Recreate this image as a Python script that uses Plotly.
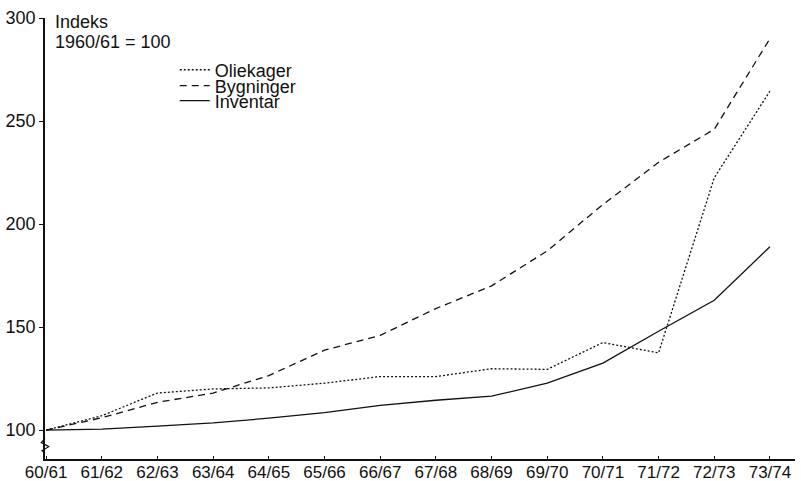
import plotly.graph_objects as go

years = ["60/61", "61/62", "62/63", "63/64", "64/65", "65/66", "66/67",
         "67/68", "68/69", "69/70", "70/71", "71/72", "72/73", "73/74"]

oliekager = [100, 107, 118, 120, 120.5, 122.8, 126, 126, 129.8, 129.5,
             142.5, 137.5, 222.5, 264.5]
bygninger = [100, 106, 113.5, 118, 126.5, 138.8, 146, 159, 170, 187,
             209.5, 230, 246, 290]
inventar = [100, 100.5, 102, 103.5, 105.8, 108.5, 112, 114.5, 116.5, 122.8,
            132.5, 148, 163, 189]

_FONT = "Liberation Sans, Arial, sans-serif"
_INK = "#111111"

fig = go.Figure()
fig.add_trace(go.Scatter(
    x=years, y=oliekager, mode="lines", name="Oliekager", legend="legend",
    line={"color": _INK, "width": 1.3, "dash": "2px,2px"},
))
fig.add_trace(go.Scatter(
    x=years, y=bygninger, mode="lines", name="Bygninger", legend="legend2",
    line={"color": _INK, "width": 1.3, "dash": "7px,5px"},
))
fig.add_trace(go.Scatter(
    x=years, y=inventar, mode="lines", name="Inventar", legend="legend3",
    line={"color": _INK, "width": 1.3},
))

fig.add_annotation(
    text="Indeks", xref="paper", yref="paper", x=0.011, y=0.991,
    xanchor="left", yanchor="middle", showarrow=False,
    font={"size": 18, "color": _INK},
)
fig.add_annotation(
    text="1960/61 = 100", xref="paper", yref="paper", x=0.011, y=0.946,
    xanchor="left", yanchor="middle", showarrow=False,
    font={"size": 18, "color": _INK},
)

# axis break squiggle just under 100
fig.add_shape(
    type="path", xref="paper", yref="y",
    path="M 0,96 L -0.005,94 L 0.005,92 L -0.004,90 L 0,89",
    line={"color": _INK, "width": 1.2},
)


def _legend(ypos):
    return {
        "x": 0.173, "y": ypos, "xanchor": "left", "yanchor": "middle",
        "bgcolor": "rgba(0,0,0,0)", "font": {"size": 18},
    }


fig.update_layout(
    width=801, height=481,
    paper_bgcolor="white", plot_bgcolor="white",
    margin={"l": 45, "r": 6, "t": 18, "b": 22},
    font={"family": _FONT, "size": 18, "color": _INK},
    showlegend=True,
    legend=_legend(0.882),
    legend2=_legend(0.846),
    legend3=_legend(0.812),
    xaxis={
        "type": "category", "range": [-0.02, 13.45], "automargin": False,
        "showline": True, "linecolor": _INK, "linewidth": 1.5,
        "ticks": "inside", "ticklen": 3, "tickcolor": _INK,
        "ticklabelstandoff": -3,
        "showgrid": False, "zeroline": False,
        "tickfont": {"size": 17},
    },
    yaxis={
        "range": [86, 300], "tickvals": [100, 150, 200, 250, 300],
        "automargin": False,
        "showline": True, "linecolor": _INK, "linewidth": 1.5,
        "ticks": "outside", "ticklen": 4, "tickcolor": _INK,
        "showgrid": False, "zeroline": False,
        "tickfont": {"size": 18},
    },
)

fig.write_html(
    "out.html",
    config={"displayModeBar": False},
    post_script="document.body.style.margin = '0';",
)
